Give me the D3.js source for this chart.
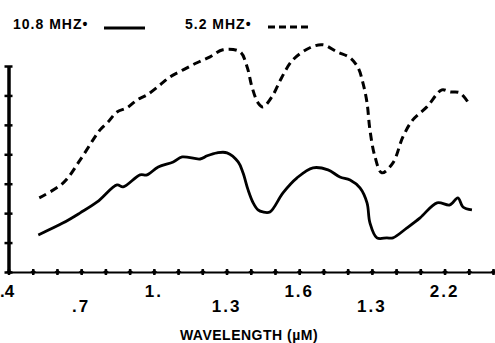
<!DOCTYPE html>
<html>
<head>
<meta charset="utf-8">
<script src="https://cdn.jsdelivr.net/npm/d3@7"></script>
<style>
  body { margin: 0; background: #fff; }
  svg { display: block; }
  text { font-family: "Liberation Sans", Arial, sans-serif; font-weight: bold; fill: #000; }
</style>
</head>
<body>
<svg id="chart" width="495" height="343"></svg>
<script>
// wavelength (um) and relative reflectance
const wl10 = [0.523, 0.626, 0.696, 0.766, 0.848, 0.873, 0.943, 0.972, 1.018, 1.080, 1.117, 1.191, 1.220, 1.261,
  1.302, 1.348, 1.368, 1.389, 1.410, 1.430, 1.450, 1.479, 1.533, 1.591, 1.657, 1.719, 1.768, 1.810, 1.851,
  1.880, 1.892, 1.921, 1.962, 1.987, 2.045, 2.099, 2.169, 2.222, 2.255, 2.276, 2.313]
const val10 = [12.6, 16.7, 20.1, 23.8, 29.6, 28.9, 33.0, 33.0, 35.7, 37.4, 39.1, 38.4, 39.5, 40.5,
  40.5, 37.4, 33.7, 27.9, 23.5, 21.1, 20.4, 20.4, 26.9, 32.0, 35.4, 34.7, 32.3, 31.3, 28.6,
  23.5, 16.7, 11.6, 11.6, 11.6, 15.0, 18.4, 23.5, 22.8, 25.2, 22.1, 21.1]

const wl5 = [0.527, 0.626, 0.696, 0.749, 0.778, 0.811, 0.848, 0.889, 0.931, 0.972, 1.026, 1.067, 1.121, 1.178,
  1.232, 1.285, 1.356, 1.385, 1.405, 1.430, 1.450, 1.487, 1.529, 1.574, 1.644, 1.698, 1.756, 1.810, 1.843,
  1.863, 1.880, 1.892, 1.913, 1.941, 1.987, 2.028, 2.069, 2.127, 2.189, 2.222, 2.263, 2.296]
const val5 = [25.2, 30.3, 38.1, 44.9, 48.3, 51.0, 54.4, 55.8, 58.5, 60.2, 63.6, 66.3, 68.7, 71.1,
  73.1, 75.5, 74.8, 69.7, 62.9, 57.5, 56.1, 59.5, 66.3, 72.1, 76.2, 77.2, 74.8, 72.8, 69.4,
  64.3, 57.5, 48.3, 39.1, 33.7, 37.1, 45.9, 51.7, 56.1, 61.9, 61.2, 60.9, 57.8]

const labelsTop = [[0.4, '.4'], [1.0, '1.'], [1.6, '1.6'], [2.2, '2.2']]
const labelsLow = [[0.7, '.7'], [1.3, '1.3'], [1.9, '1.3']]
const legend = [
  { label: '10.8 MHZ\u2022', x: 13, dash: null, x1: 104, x2: 145, y: 28 },
  { label: '5.2 MHZ\u2022', x: 185, dash: '7,4', x1: 268, x2: 308, y: 27 }
]

const svg = d3.select('#chart')

const x = d3.scaleLinear().domain([0.4, 2.4]).range([8.5, 493])
const y = d3.scaleLinear().domain([0, 70]).range([272, 66])

// y axis
const yAxis = svg.append('g')
  .attr('transform', 'translate(' + x(0.4) + ',0)')
  .call(d3.axisLeft(y).tickValues(d3.range(0, 71, 10)).tickFormat('').tickSizeOuter(0))
yAxis.select('.domain').attr('stroke', '#000').attr('stroke-width', 3.5)
yAxis.selectAll('.tick line')
  .attr('x1', -4).attr('x2', 4)
  .attr('stroke', '#000').attr('stroke-width', 2.5)

// x axis
const xAxis = svg.append('g')
  .attr('transform', 'translate(0,' + y(0) + ')')
  .call(d3.axisBottom(x).tickValues(d3.range(4, 25).map(d => d / 10)).tickFormat('').tickSizeOuter(0))
xAxis.select('.domain').attr('stroke', '#000').attr('stroke-width', 2)
xAxis.selectAll('.tick line')
  .attr('y1', -3).attr('y2', 3)
  .attr('stroke', '#000').attr('stroke-width', 2.5)
xAxis.selectAll('.tick').append('path')
  .attr('d', 'M-3,0L0,-2.5L3,0L0,2.5Z')
  .attr('fill', '#000')

svg.selectAll('.lblTop').data(labelsTop).enter()
  .append('text')
  .attr('x', (d, i) => i === 0 ? 0 : x(d[0]))
  .attr('y', 297)
  .attr('text-anchor', (d, i) => i === 0 ? 'start' : 'middle')
  .attr('font-size', 17)
  .attr('letter-spacing', (d, i) => i === 0 ? 0 : 2)
  .text(d => d[1])

svg.selectAll('.lblLow').data(labelsLow).enter()
  .append('text')
  .attr('x', d => x(d[0]))
  .attr('y', 312)
  .attr('text-anchor', 'middle')
  .attr('font-size', 17)
  .attr('letter-spacing', 2)
  .text(d => d[1])

svg.append('text')
  .attr('x', 249).attr('y', 340)
  .attr('text-anchor', 'middle')
  .attr('font-size', 14)
  .attr('letter-spacing', 0.5)
  .text('WAVELENGTH (\u00b5M)')

// curves
const line = d3.line()
  .x(d => x(d[0]))
  .y(d => y(d[1]))
  .curve(d3.curveCatmullRom)

svg.append('path')
  .datum(d3.zip(wl10, val10))
  .attr('d', line)
  .attr('fill', 'none')
  .attr('stroke', '#000')
  .attr('stroke-width', 2.8)

svg.append('path')
  .datum(d3.zip(wl5, val5))
  .attr('d', line)
  .attr('fill', 'none')
  .attr('stroke', '#000')
  .attr('stroke-width', 3)
  .attr('stroke-dasharray', '8,5')

// legend
const lg = svg.selectAll('.legend').data(legend).enter().append('g')
lg.append('text')
  .attr('x', d => d.x).attr('y', 29)
  .attr('font-size', 14)
  .attr('letter-spacing', 1)
  .text(d => d.label)
lg.append('line')
  .attr('x1', d => d.x1).attr('x2', d => d.x2)
  .attr('y1', d => d.y).attr('y2', d => d.y)
  .attr('stroke', '#000')
  .attr('stroke-width', 3)
  .attr('stroke-dasharray', d => d.dash)
</script>
</body>
</html>
